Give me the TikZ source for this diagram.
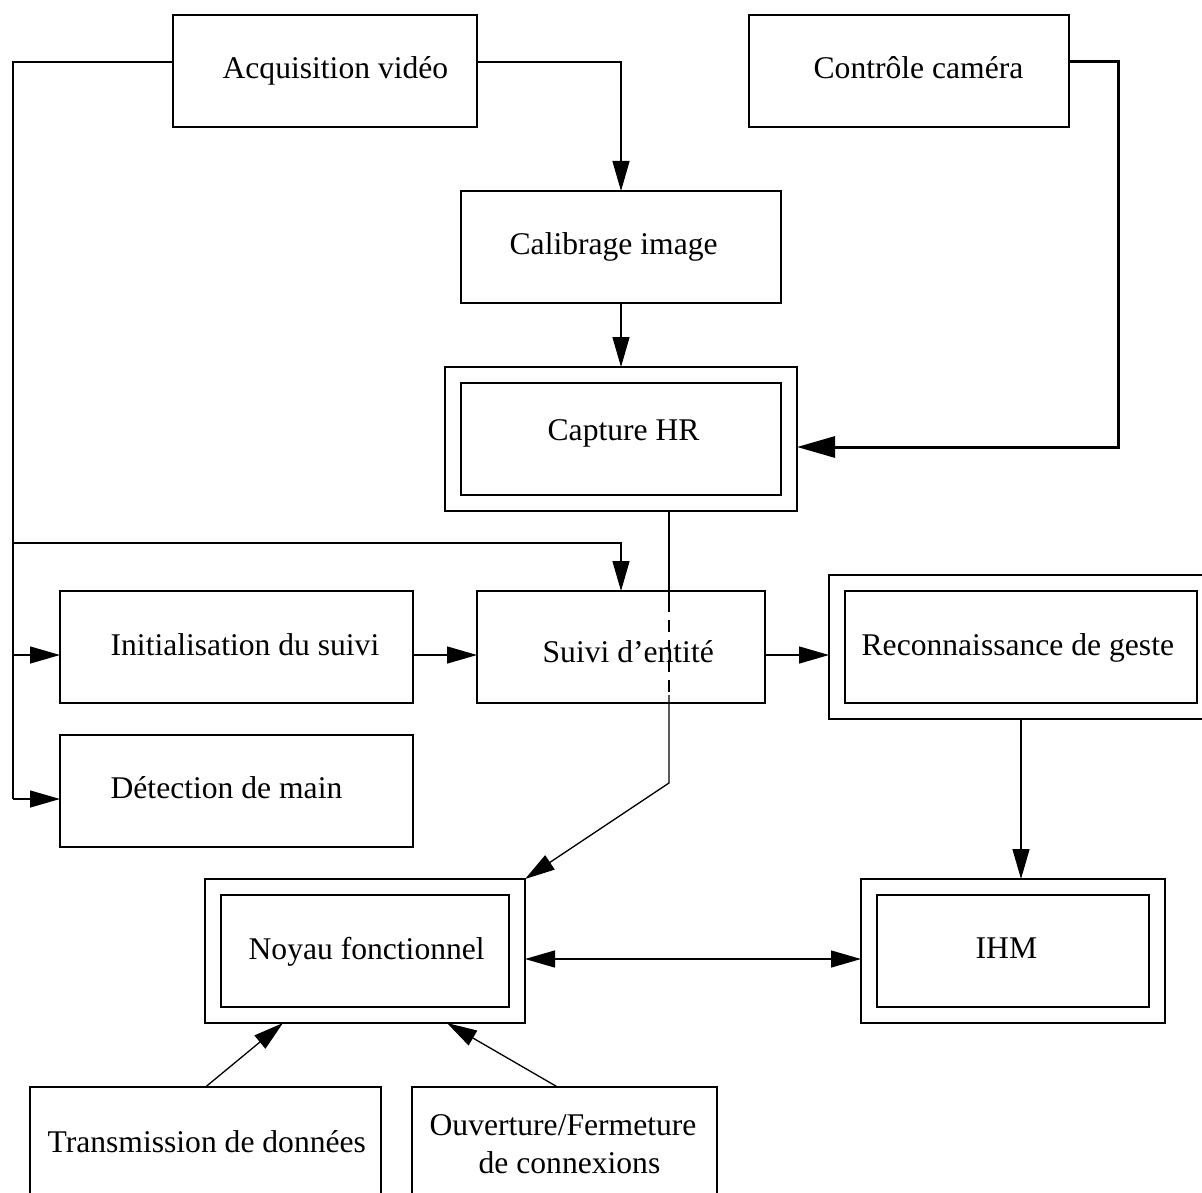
\documentclass[tikz,border=0pt]{standalone}
\usepackage{fontspec}
\setmainfont{Liberation Serif}
\usetikzlibrary{arrows.meta,fit,calc}

\begin{document}
\begin{tikzpicture}[x=0.5pt,y=-0.5pt,
  line width=0.65pt,
  box/.style={draw, rectangle, inner sep=0pt, outer sep=0pt},
  frame/.style={draw, rectangle, inner sep=8pt, outer sep=0pt},
  lbl/.style={anchor=base west, inner sep=0pt, font=\fontsize{15.8}{19}\selectfont},
  flow/.style={-{Triangle[length=15pt,width=8.5pt]}},
  dflow/.style={{Triangle[length=15pt,width=8.5pt]}-{Triangle[length=15pt,width=8.5pt]}},
  heavyflow/.style={line width=1.5pt,-{Triangle[length=19pt,width=10.5pt]}},
  ]
\useasboundingbox (0,0) rectangle (1202,1192);
\clip (0,0) rectangle (1202,1192);

% plain boxes
\node[box, fit={(173,15) (477,127)}]   (acq)   {};
\node[box, fit={(749,15) (1069,127)}]  (cont)  {};
\node[box, fit={(461,191) (781,303)}]  (calib) {};
\node[box, fit={(477,591) (765,703)}]  (suivi) {};
\node[box, fit={(60,591) (413,703)}]   (init)  {};
\node[box, fit={(60,735) (413,847)}]   (det)   {};
\node[box, fit={(30,1087) (381,1215)}] (trans) {};
\node[box, fit={(412,1087) (717,1215)}] (ouv)  {};

% framed boxes: inner box plus surrounding frame
\node[box, fit={(461,383) (781,495)}]   (cap) {};
\node[frame, fit=(cap)]                 (capO) {};
\node[box, fit={(845,591) (1197,703)}]  (rec) {};
\node[frame, fit=(rec)]                 (recO) {};
\node[box, fit={(221,895) (509,1007)}]  (noy) {};
\node[frame, fit=(noy)]                 (noyO) {};
\node[box, fit={(877,895) (1149,1007)}] (ihm) {};
\node[frame, fit=(ihm)]                 (ihmO) {};

% labels
\node[lbl] (acqT)   at (222,79)  {Acquisition vidéo};
\node[lbl] (contT)  at (813,79)  {Contrôle caméra};
\node[lbl] (calibT) at (509,255) {Calibrage image};
\node[lbl] (capT)   at (547,440) {Capture HR};
\node[lbl] (suiviT) at (542,662) {Suivi d’entité};
\node[lbl] (initT)  at (110,655) {Initialisation du suivi};
\node[lbl] (detT)   at (110,798) {Détection de main};
\node[lbl] (recT)   at (861,655) {Reconnaissance de geste};
\node[lbl] (noyT)   at (248,959) {Noyau fonctionnel};
\node[lbl] (ihmT)   at (975,958) {IHM};
\node[lbl] (transT) at (47,1152) {Transmission de données};
\node[lbl] (ouvT)   at (429,1135) {Ouverture/Fermeture};
\node[lbl] (ouvT2)  at (478,1173) {de connexions};

% video bus on the left
\coordinate (busTop) at (13,62);
\coordinate (busMid) at (13,543);
\coordinate (busBot) at (13,799);
\coordinate (initIn) at ($(init.west)+(0,8)$);
\draw ([yshift=4.5pt]acq.west) -- (busTop) -- (busBot);
\draw[flow] (busBot) -- (busBot -| det.west);
\draw[flow] (initIn -| busTop) -- (initIn);
\draw[flow] (busMid) -| (suivi.north);

% acquisition -> calibration -> capture
\draw[flow] ([yshift=4.5pt]acq.east) -| (calib.north);
\draw[flow] (calib.south) -- (capO.north);

% camera control feedback
\draw[heavyflow] ([yshift=4.5pt]cont.east) -- ++(49,0) |- ($(capO.east)+(0,8)$);

% capture -> functional core, crossing the tracking box
\coordinate (capDrop) at ($(capO.south)+(48,0)$);
\coordinate (bend) at (669,783);
\draw (capDrop) -- ($(capDrop |- suivi.north)+(0,9)$);
\draw[dash pattern=on 6pt off 4pt] ($(capDrop |- suivi.north)+(0,9)$) -- ($(capDrop |- suivi.south)+(0,-8)$);
\draw[flow] ($(capDrop |- suivi.south)+(0,-8)$) -- (bend) -- (noyO.north east);

% tracking chain
\draw[flow] ($(init.east)+(0,8)$) -- ($(suivi.west)+(0,8)$);
\draw[flow] ($(suivi.east)+(0,8)$) -- ($(recO.west)+(0,8)$);
\draw[flow] (recO.south) -- (recO.south |- ihmO.north);

% core <-> HMI
\draw[dflow] ($(noyO.east)+(0,8)$) -- ($(ihmO.west)+(0,8)$);

% services feeding the core
\draw[flow] (trans.north) -- ($(noyO.south west)+(78,0)$);
\draw[flow] ($(ouv.north)+(-7,0)$) -- ($(noyO.south west)+(242,0)$);
\end{tikzpicture}
\end{document}
